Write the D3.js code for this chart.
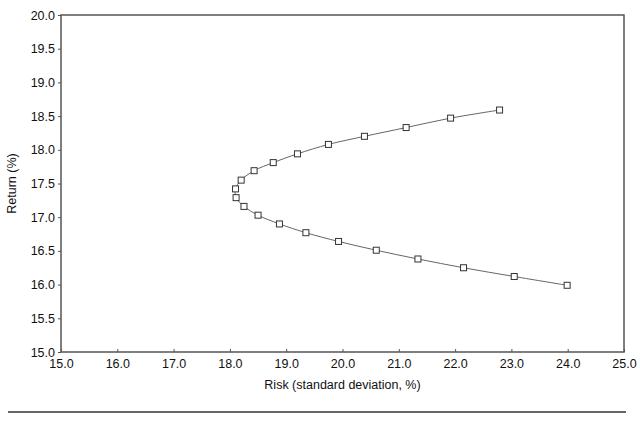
<!DOCTYPE html>
<html><head><meta charset="utf-8">
<script src="https://cdn.jsdelivr.net/npm/d3@7"></script>
<style>body{margin:0;background:#fff}svg{display:block}text{font-family:"Liberation Sans",Arial,sans-serif}</style>
</head><body><svg id="c" width="640" height="428"></svg>
<script>
const risk = [22.79,21.92,21.13,20.39,19.75,19.20,18.77,18.43,18.20,18.10,18.11,18.25,18.50,18.88,19.35,19.93,20.60,21.34,22.15,23.05,23.99];
const ret  = [18.59,18.47,18.33,18.20,18.08,17.94,17.81,17.69,17.55,17.42,17.29,17.16,17.03,16.90,16.77,16.64,16.51,16.38,16.25,16.12,15.99];
const xTicks = [15,16,17,18,19,20,21,22,23,24,25];
const yTicks = [15,15.5,16,16.5,17,17.5,18,18.5,19,19.5,20];
const xTitle = "Risk (standard deviation, %)";
const yTitle = "Return (%)";

const svg = d3.select("#c");
const m = {l:61, r:624, t:15, b:352};
const x = d3.scaleLinear().domain([15,25]).range([m.l,m.r]);
const y = d3.scaleLinear().domain([15,20]).range([m.b,m.t]);
const ax = "#555";

// frame
svg.append("rect").attr("x",m.l).attr("y",m.t).attr("width",m.r-m.l).attr("height",m.b-m.t)
  .attr("fill","none").attr("stroke",ax).attr("stroke-width",1.5);

const xa = svg.append("g").attr("transform",`translate(0,${m.b})`)
  .call(d3.axisBottom(x).tickValues(xTicks).tickFormat(d3.format(".1f")).tickSize(-3).tickPadding(7));
const ya = svg.append("g").attr("transform",`translate(${m.l},0)`)
  .call(d3.axisLeft(y).tickValues(yTicks).tickFormat(d3.format(".1f")).tickSize(3).tickPadding(3));
[xa,ya].forEach(g=>{
  g.select(".domain").remove();
  g.selectAll(".tick line").attr("stroke",ax).attr("stroke-width",1);
  g.selectAll(".tick text").attr("fill","#111").style("font-size","12.5px");
});

svg.append("text").attr("x",(m.l+m.r)/2).attr("y",389).attr("text-anchor","middle")
  .attr("fill","#111").style("font-size","12.5px").text(xTitle);
svg.append("text").attr("transform",`translate(16,${(m.t+m.b)/2}) rotate(-90)`).attr("text-anchor","middle")
  .attr("fill","#111").style("font-size","12.5px").text(yTitle);

const pts = risk.map((r,i)=>[r,ret[i]]);
svg.append("path").datum(pts)
  .attr("d", d3.line().x(d=>x(d[0])).y(d=>y(d[1])).curve(d3.curveCatmullRom))
  .attr("fill","none").attr("stroke","#666").attr("stroke-width",1);
svg.selectAll("rect.pt").data(pts).enter().append("rect").attr("class","pt")
  .attr("x",d=>x(d[0])-3).attr("y",d=>y(d[1])-3).attr("width",6).attr("height",6)
  .attr("fill","#fff").attr("stroke","#333").attr("stroke-width",1);

// bottom rule
svg.append("line").attr("x1",8).attr("x2",626).attr("y1",412).attr("y2",412)
  .attr("stroke","#666").attr("stroke-width",2);
</script></body></html>
